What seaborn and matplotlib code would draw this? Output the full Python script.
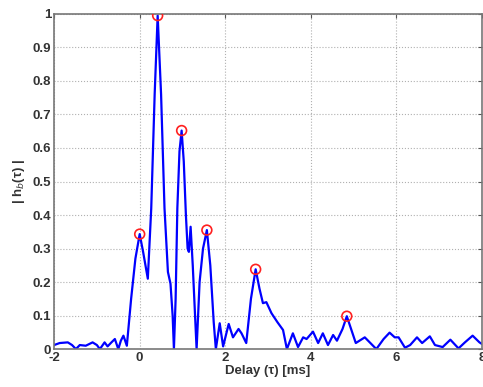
import matplotlib
matplotlib.use("Agg")
import matplotlib.pyplot as plt
import seaborn as sns
import pandas as pd

# curve: delay (ms) and |h_b(tau)|
delay = [-2.00, -1.87, -1.68, -1.58, -1.49, -1.40, -1.26, -1.10, -1.00, -0.93,
         -0.82, -0.75, -0.66, -0.58, -0.50, -0.44, -0.38, -0.30, -0.20, -0.10,
         0.00, 0.08, 0.19, 0.27, 0.35, 0.42, 0.50, 0.58, 0.66, 0.72,
         0.77, 0.80, 0.84, 0.88, 0.93, 0.98, 1.03, 1.08, 1.12, 1.15,
         1.19, 1.24, 1.33, 1.40, 1.48, 1.57, 1.65, 1.73, 1.78, 1.87,
         1.95, 2.08, 2.18, 2.31, 2.38, 2.49, 2.60, 2.71, 2.80, 2.88,
         2.96, 3.08, 3.22, 3.35, 3.44, 3.58, 3.70, 3.82, 3.90, 4.05,
         4.17, 4.28, 4.40, 4.52, 4.61, 4.74, 4.84, 4.94, 5.05, 5.26,
         5.53, 5.70, 5.84, 5.96, 6.05, 6.20, 6.32, 6.48, 6.60, 6.78,
         6.90, 7.08, 7.26, 7.45, 7.60, 7.78, 7.94, 8.00]
amp = [0.012, 0.018, 0.020, 0.012, 0.000, 0.012, 0.010, 0.020, 0.012, 0.000,
       0.020, 0.008, 0.020, 0.030, 0.000, 0.025, 0.040, 0.010, 0.150, 0.270,
       0.343, 0.290, 0.210, 0.420, 0.760, 0.995, 0.760, 0.420, 0.230, 0.195,
       0.100, 0.000, 0.150, 0.420, 0.590, 0.652, 0.560, 0.400, 0.300, 0.290,
       0.365, 0.250, 0.000, 0.200, 0.300, 0.355, 0.250, 0.080, 0.000, 0.077,
       0.008, 0.075, 0.035, 0.060, 0.047, 0.018, 0.150, 0.238, 0.180, 0.137,
       0.140, 0.107, 0.080, 0.057, 0.000, 0.047, 0.006, 0.035, 0.030, 0.052,
       0.018, 0.047, 0.012, 0.042, 0.025, 0.060, 0.098, 0.060, 0.018, 0.035,
       0.000, 0.030, 0.049, 0.035, 0.035, 0.004, 0.012, 0.035, 0.018, 0.038,
       0.012, 0.006, 0.028, 0.002, 0.020, 0.040, 0.020, 0.015]

# detected peaks
peak_delay = [0.00, 0.42, 0.98, 1.57, 2.71, 4.84]
peak_amp = [0.343, 0.995, 0.652, 0.355, 0.238, 0.098]

xticks = [-2, 0, 2, 4, 6, 8]
yticks = [0, 0.1, 0.2, 0.3, 0.4, 0.5, 0.6, 0.7, 0.8, 0.9, 1]
ytick_labels = ['0', '0.1', '0.2', '0.3', '0.4', '0.5', '0.6', '0.7', '0.8', '0.9', '1']

df = pd.DataFrame({'delay': delay, 'amp': amp})
peaks = pd.DataFrame({'delay': peak_delay, 'amp': peak_amp})

sns.set_style('white')
plt.rcParams['font.family'] = ['Liberation Sans', 'DejaVu Sans']

fig = plt.figure(figsize=(4.83, 3.87), dpi=100)
ax = fig.add_axes([0.112, 0.098, 0.886, 0.866])

sns.lineplot(data=df, x='delay', y='amp', color='#0000ff', linewidth=1.6,
             sort=False, ax=ax)
sns.scatterplot(data=peaks, x='delay', y='amp', s=50, facecolor='none',
                edgecolor='#ff2020', linewidth=1.2, zorder=5, ax=ax)

ax.set_xlim(-2, 8)
ax.set_ylim(0, 1)
ax.set_xticks(xticks)
ax.set_xticklabels([str(t) for t in xticks])
ax.set_yticks(yticks)
ax.set_yticklabels(ytick_labels)
ax.grid(True, linestyle=':', color='#b0b0b0', linewidth=0.8)
ax.tick_params(direction='in', length=3, top=True, right=True, color='#555555',
               labelsize=9.5, pad=2)
for lab in ax.get_xticklabels() + ax.get_yticklabels():
    lab.set_fontweight('bold')
    lab.set_color('#333333')
for sp in ax.spines.values():
    sp.set_color('#777777')
    sp.set_linewidth(1.2)

ax.set_xlabel('Delay (\u03c4) [ms]', fontsize=9.5, fontweight='bold',
              color='#333333', labelpad=1)
ax.set_ylabel('| h$_b$(\u03c4) |', fontsize=9.5, fontweight='bold',
              color='#333333', labelpad=4)

fig.savefig('out.png', dpi=100)
